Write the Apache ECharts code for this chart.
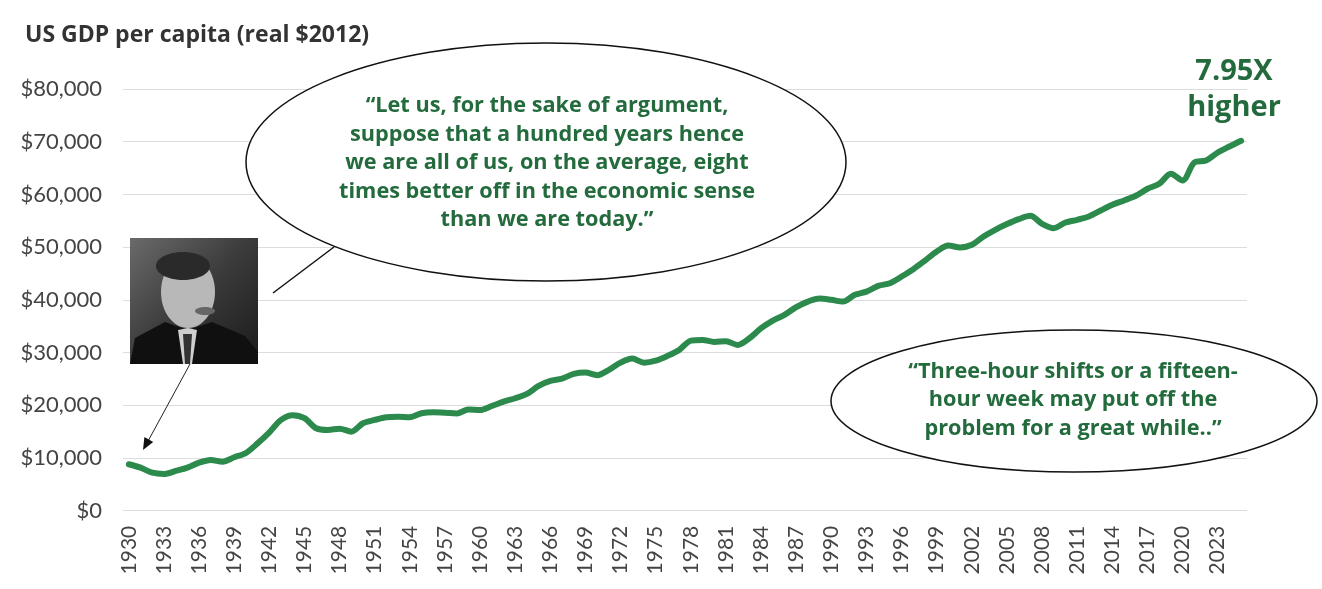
<!DOCTYPE html>
<html>
<head>
<meta charset="utf-8">
<script src="https://cdn.jsdelivr.net/npm/echarts@6/dist/echarts.min.js"></script>
<style>
html,body{margin:0;padding:0;background:#fff;}
#chart{width:1322px;height:589px;}
</style>
</head>
<body>
<div id="chart"></div>
<script>
const years = ['1930','1931','1932','1933','1934','1935','1936','1937','1938','1939',
'1940','1941','1942','1943','1944','1945','1946','1947','1948','1949',
'1950','1951','1952','1953','1954','1955','1956','1957','1958','1959',
'1960','1961','1962','1963','1964','1965','1966','1967','1968','1969',
'1970','1971','1972','1973','1974','1975','1976','1977','1978','1979',
'1980','1981','1982','1983','1984','1985','1986','1987','1988','1989',
'1990','1991','1992','1993','1994','1995','1996','1997','1998','1999',
'2000','2001','2002','2003','2004','2005','2006','2007','2008','2009',
'2010','2011','2012','2013','2014','2015','2016','2017','2018','2019',
'2020','2021','2022','2023','2024','2025'];

const gdpPerCapita = [8810,8160,7210,6970,7540,8160,9110,9620,9300,10140,
10950,12790,14880,17220,18110,17540,15640,15320,15570,15000,
16590,17220,17730,17840,17730,18490,18680,18600,18450,19200,
19110,19870,20690,21330,22150,23670,24620,25060,25950,26200,
25700,26710,28090,28850,28090,28470,29370,30500,32270,32400,
32020,32150,31450,32720,34620,36070,37150,38610,39670,40240,
40000,39670,40950,41570,42650,43160,44420,45820,47460,49170,
50300,49920,50440,52010,53290,54370,55310,55940,54420,53600,
54670,55180,55810,56950,58030,58850,59740,61070,62020,63920,
62640,66060,66440,67960,69100,70180];

const titleText = 'US GDP per capita (real $2012)';
const quote1 = '\u201CLet us, for the sake of argument,\nsuppose that a hundred years hence\nwe are all of us, on the average, eight\ntimes better off in the economic sense\nthan we are today.\u201D';
const quote2 = '\u201CThree-hour shifts or a fifteen-\nhour week may put off the\nproblem for a great while..\u201D';
const multipleText = '7.95X\nhigher';

const FONT = 'Lato, "Noto Sans", sans-serif';
const BFONT = '"Open Sans", Lato, sans-serif';
const GREEN_LINE = '#2b8a4c';
const GREEN_TEXT = '#236b3d';

const chart = echarts.init(document.getElementById('chart'), null, {renderer:'canvas'});

const graphics = [
  // Keynes photo placeholder
  {type:'rect', z:5, shape:{x:130,y:238,width:128,height:126},
   style:{fill:new echarts.graphic.LinearGradient(0,0,1,1,[{offset:0,color:'#6a6a6a'},{offset:0.5,color:'#3a3a3a'},{offset:1,color:'#1a1a1a'}])}},
  {type:'ellipse', z:6, shape:{cx:188,cy:292,rx:27,ry:36}, style:{fill:'#b8b8b8'}},
  {type:'ellipse', z:7, shape:{cx:183,cy:266,rx:27,ry:14}, style:{fill:'#2a2a2a'}},
  {type:'polygon', z:8, shape:{points:[[130,364],[135,338],[165,322],[188,330],[212,322],[245,336],[258,352],[258,364]]}, style:{fill:'#101010'}},
  {type:'polygon', z:9, shape:{points:[[178,330],[188,328],[197,330],[192,364],[183,364]]}, style:{fill:'#cfcfcf'}},
  {type:'polygon', z:10, shape:{points:[[183,334],[192,334],[190,364],[185,364]]}, style:{fill:'#333'}},
  {type:'ellipse', z:10, shape:{cx:205,cy:311,rx:10,ry:4}, style:{fill:'#666'}},
  // arrow from photo to 1930s
  {type:'line', z:5, shape:{x1:190,y1:364,x2:147,y2:443}, style:{stroke:'#222',lineWidth:1}},
  {type:'polygon', z:5, shape:{points:[[143,450],[153.2,441.9],[144.4,437.1]]}, style:{fill:'#111'}},
  // first speech bubble
  {type:'line', z:5, shape:{x1:273,y1:293,x2:334,y2:247}, style:{stroke:'#111',lineWidth:1.5}},
  {type:'ellipse', z:6, shape:{cx:546,cy:162,rx:300,ry:119}, style:{fill:'#fff',stroke:'#111',lineWidth:1.5}},
  {type:'text', z:7, style:{x:547,y:163,text:quote1,textAlign:'center',textVerticalAlign:'middle',
    font:'bold 21.7px '+BFONT, fill:GREEN_TEXT, lineHeight:28.6}},
  // second speech bubble
  {type:'ellipse', z:6, shape:{cx:1074,cy:401,rx:243,ry:71}, style:{fill:'#fff',stroke:'#111',lineWidth:1.5}},
  {type:'text', z:7, style:{x:1073,y:400,text:quote2,textAlign:'center',textVerticalAlign:'middle',
    font:'bold 21.7px '+BFONT, fill:GREEN_TEXT, lineHeight:28.4}},
  // multiple label
  {type:'text', z:7, style:{x:1234,y:90,text:multipleText,textAlign:'center',textVerticalAlign:'middle',
    font:'bold 29px '+BFONT, fill:GREEN_TEXT, lineHeight:36}}
];

chart.setOption({
  animation:false,
  backgroundColor:'#fff',
  title:{text:titleText,left:20,top:19,textStyle:{fontFamily:BFONT,fontSize:23,fontWeight:'bold',color:'#333'}},
  grid:{left:123,right:75,top:89,bottom:78.3,containLabel:false},
  xAxis:{
    type:'category', data:years, boundaryGap:true,
    axisLine:{show:false}, axisTick:{show:false},
    axisLabel:{interval:2, rotate:90, margin:15, fontFamily:FONT, fontSize:21, color:'#444'}
  },
  yAxis:{
    type:'value', min:0, max:80000, interval:10000,
    axisLine:{show:false}, axisTick:{show:false},
    splitLine:{lineStyle:{color:'#dcdcdc',width:1}},
    axisLabel:{margin:21, fontFamily:FONT, fontSize:22, color:'#444',
      formatter:function(v){return '$'+v.toLocaleString('en-US');}}
  },
  series:[{
    type:'line', data:gdpPerCapita, smooth:0.3, symbol:'none',
    lineStyle:{color:GREEN_LINE,width:6,cap:'round',join:'round'}, z:3
  }],
  graphic:graphics
});
</script>
</body>
</html>
